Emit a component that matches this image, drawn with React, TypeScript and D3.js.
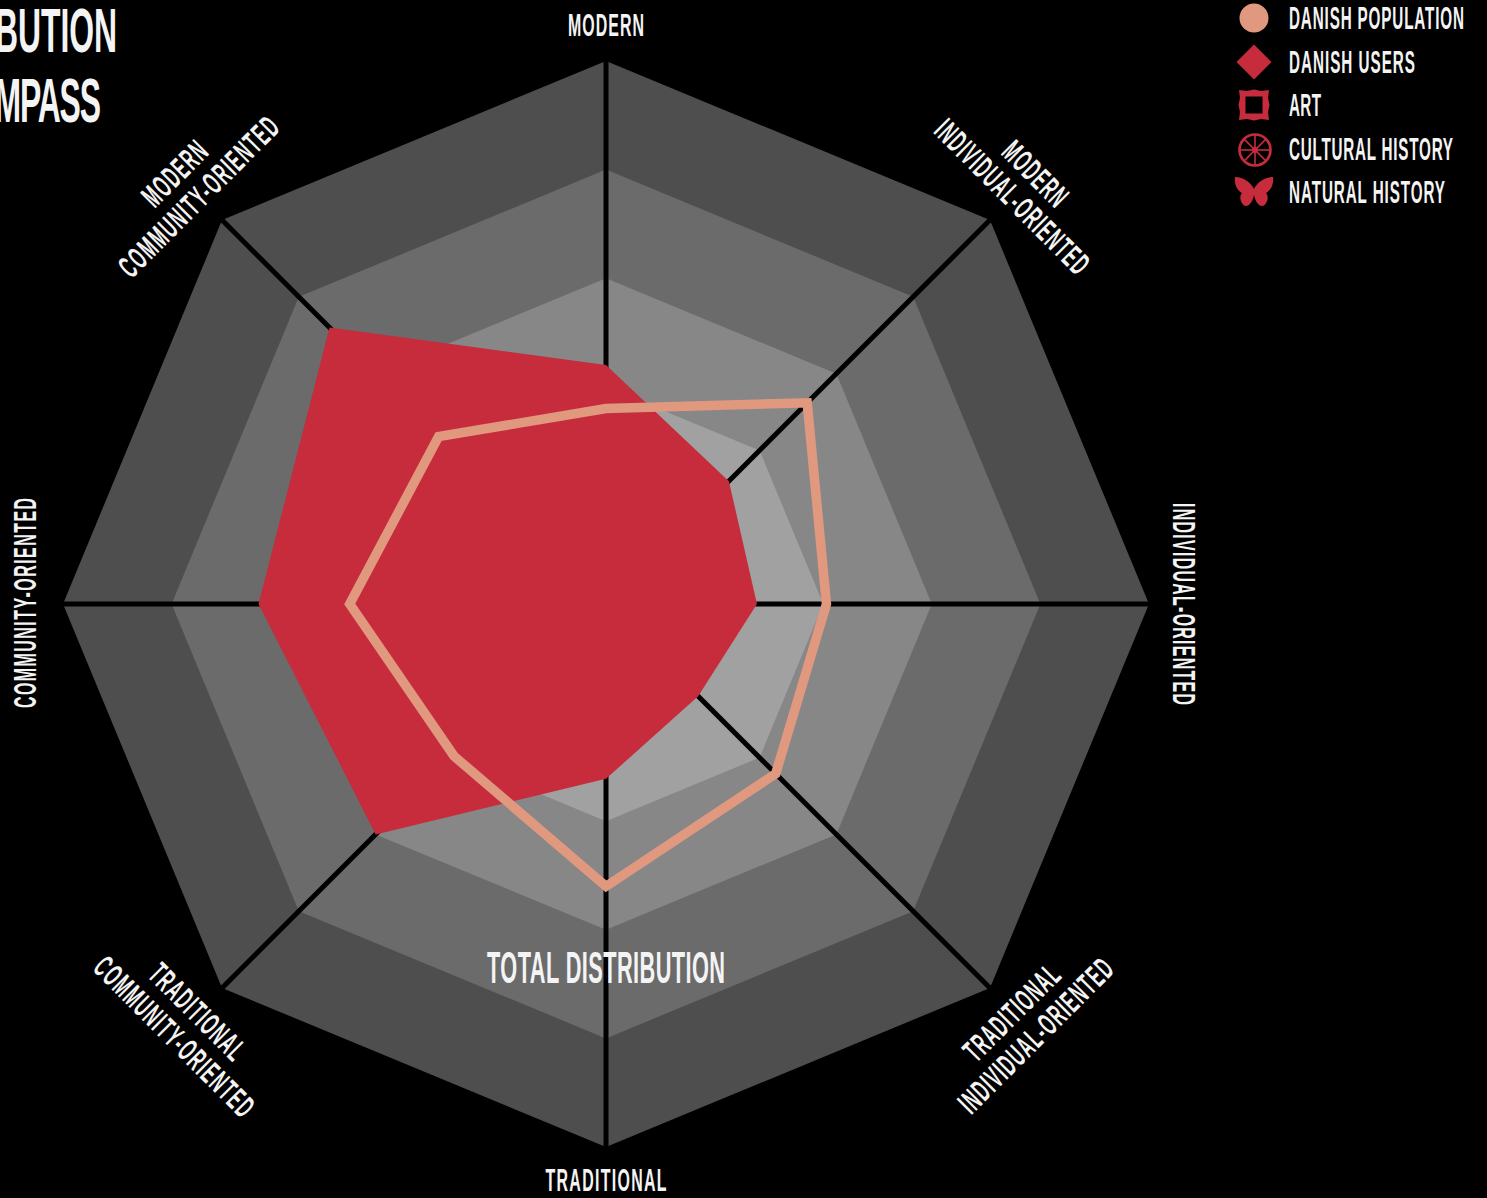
import React from "react";
import * as d3 from "d3";

const axes = ["MODERN", "MODERN INDIVIDUAL", "INDIVIDUAL", "TRADITIONAL INDIVIDUAL", "TRADITIONAL", "TRADITIONAL COMMUNITY", "COMMUNITY", "MODERN COMMUNITY"];
const danishUsers = [22, 16, 13.9, 12, 16.1, 30, 32, 36];
const danishPopulation = [18, 26.2, 20.3, 22.1, 26, 19.8, 23.6, 21.8];
const ringLevels = [50, 40, 30, 20];
const ringColors = ["#4e4e4e", "#6b6b6b", "#878787", "#a1a1a1"];
const legendLabels = ["DANISH POPULATION", "DANISH USERS", "ART", "CULTURAL HISTORY", "NATURAL HISTORY"];
const legendWidths = [175, 126, 32, 164, 156];
const RED = "#c62c3c";
const PEACH = "#e0987f";
const FONT = "'Liberation Sans Narrow','Liberation Sans',sans-serif";

const cx = 606, cy = 604;
const rScale = d3.scaleLinear().domain([0, 50]).range([0, 543]);
const angle = d3.scalePoint<string>().domain(axes).range([0, 2 * Math.PI * 7 / 8]);
const radial = (vals: number[]) =>
  d3.lineRadial<number>().angle((_, i) => angle(axes[i]) as number).radius(d => rScale(d)).curve(d3.curveLinearClosed)(vals) as string;

const SX = 0.5;

function T({ x, y, w, h, rot = 0, anchor = "middle", children }: { x: number; y: number; w: number; h: number; rot?: number; anchor?: string; children: string }) {
  return (
    <text transform={`translate(${x},${y}) rotate(${rot}) scale(${SX},1)`} textAnchor={anchor} dy={h / 2 - 0.5} fontFamily={FONT} fontWeight={700} fontSize={h / 0.69}
      fill="#f4f4f4" textLength={w / SX} lengthAdjust="spacing">{children}</text>
  );
}

const labels: [string, number, number, number, number, number][] = [
  ["MODERN", 606, 25, 76, 22, 0],
  ["MODERN", 1035, 174, 78, 22, 45],
  ["INDIVIDUAL-ORIENTED", 1012, 197, 204, 22, 45],
  ["INDIVIDUAL-ORIENTED", 1184, 604, 202, 22, 90],
  ["TRADITIONAL", 1012, 1013, 122, 22, -45],
  ["INDIVIDUAL-ORIENTED", 1036, 1036, 204, 22, -45],
  ["TRADITIONAL", 606, 1180, 121, 22, 0],
  ["TRADITIONAL", 197, 1012, 122, 22, 45],
  ["COMMUNITY-ORIENTED", 174, 1037, 212, 22, 45],
  ["COMMUNITY-ORIENTED", 25, 603, 210, 22, -90],
  ["MODERN", 175, 174, 78, 22, -45],
  ["COMMUNITY-ORIENTED", 199, 197, 212, 22, -45],
];

const butterfly = "M0,-3 C-3,-9 -10,-15 -19,-15 C-20,-8 -17,-2 -12,1 C-15,4 -14,11 -9,14 C-5,15 -1,9 0,3 C1,9 5,15 9,14 C14,11 15,4 12,1 C17,-2 20,-8 19,-15 C10,-15 3,-9 0,-3 Z";
const frame = "M-15,-15 L-7,-14 L0,-15.5 L7,-14 L15,-15 L14,-7 L15.5,0 L14,7 L15,15 L7,14 L0,15.5 L-7,14 L-15,15 L-14,7 L-15.5,0 L-14,-7 Z M-8.5,-8.5 L-8.5,8.5 L8.5,8.5 L8.5,-8.5 Z";

export default function App() {
  const legendY = [18, 62, 105, 149, 192];
  const spokes = d3.range(8).map(i => (i * Math.PI) / 4);
  return (
    <svg width={1487} height={1198} style={{ position: "absolute", left: 0, top: 0, background: "#000", display: "block" }}>
      <rect width={1487} height={1198} fill="#000" />
      <g transform={`translate(${cx},${cy})`}>
        {ringLevels.map((l, i) => (
          <path key={l} d={radial(axes.map(() => l))} fill={ringColors[i]} />
        ))}
        {axes.map(a => {
          const t = angle(a) as number;
          const r = rScale(50);
          return <line key={a} x1={0} y1={0} x2={r * Math.sin(t)} y2={-r * Math.cos(t)} stroke="#000" strokeWidth={5} />;
        })}
        <path d={radial(danishUsers)} fill={RED} />
        <path d={radial(danishPopulation)} fill="none" stroke={PEACH} strokeWidth={9.5} strokeLinejoin="miter" />
      </g>
      {labels.map(([s, x, y, w, h, rot], i) => (
        <T key={i} x={x} y={y} w={w} h={h} rot={rot}>{s}</T>
      ))}
      <T x={606} y={968} w={238} h={30}>TOTAL DISTRIBUTION</T>
      <T x={117} y={30} w={226} h={44} anchor="end">DISTRIBUTION</T>
      <T x={101} y={100} w={152} h={44} anchor="end">COMPASS</T>

      <circle cx={1254} cy={legendY[0]} r={14.5} fill={PEACH} />
      <path d={d3.symbol().type(d3.symbolSquare).size(2 * 17.5 * 17.5)() as string} transform={`translate(1254,${legendY[1]}) rotate(45)`} fill={RED} />
      <path d={frame} transform={`translate(1254,${legendY[2]})`} fill={RED} fillRule="evenodd" />
      <g transform={`translate(1255,${legendY[3] + 1})`} fill="none" stroke={RED}>
        <circle r={15.5} strokeWidth={2.6} />
        {spokes.map((s, i) => (
          <line key={i} x1={0} y1={0} x2={15 * Math.cos(s)} y2={15 * Math.sin(s)} strokeWidth={1.6} />
        ))}
        <circle r={3} fill={RED} stroke="none" />
      </g>
      <path d={butterfly} transform={`translate(1254,${legendY[4]})`} fill={RED} />
      {legendLabels.map((s, i) => (
        <T key={s} x={1289} y={legendY[i] + 1} w={legendWidths[i]} h={21} anchor="start">{s}</T>
      ))}
    </svg>
  );
}
